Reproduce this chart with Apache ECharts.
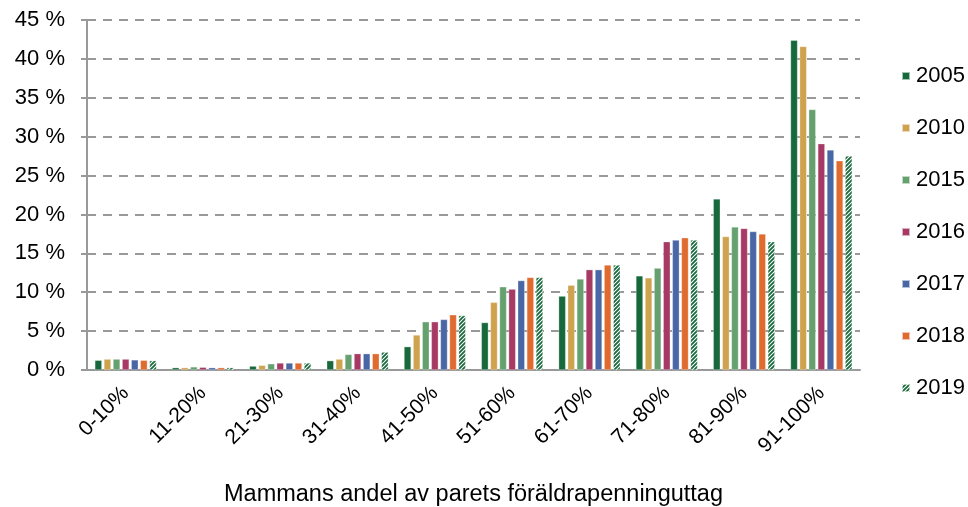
<!DOCTYPE html>
<html>
<head>
<meta charset="utf-8">
<script src="https://cdn.jsdelivr.net/npm/echarts@6/dist/echarts.min.js"></script>
<style>
  html, body { margin: 0; padding: 0; background: #fff; }
  #chart { width: 968px; height: 507px; }
</style>
</head>
<body>
<div id="chart"></div>
<script>
// Andel (%) per intervall, läst ur bilden
const categories = ['0-10%', '11-20%', '21-30%', '31-40%', '41-50%', '51-60%', '61-70%', '71-80%', '81-90%', '91-100%'];
const years = ['2005', '2010', '2015', '2016', '2017', '2018', '2019'];

const v2005 = [1.25, 0.3, 0.5, 1.2, 3.0, 6.1, 9.5, 12.1, 22.0, 42.4];
const v2010 = [1.4, 0.3, 0.6, 1.4, 4.5, 8.7, 10.9, 11.85, 17.15, 41.6];
const v2015 = [1.4, 0.4, 0.8, 2.0, 6.2, 10.7, 11.7, 13.1, 18.4, 33.5];
const v2016 = [1.4, 0.35, 0.9, 2.1, 6.2, 10.4, 12.9, 16.5, 18.2, 29.1];
const v2017 = [1.3, 0.3, 0.9, 2.1, 6.5, 11.5, 12.9, 16.7, 17.8, 28.3];
const v2018 = [1.25, 0.3, 0.9, 2.1, 7.1, 11.9, 13.5, 17.0, 17.5, 26.9];
const v2019 = [1.2, 0.3, 0.9, 2.3, 7.0, 11.9, 13.5, 16.7, 16.5, 27.5];

const seriesValues = [v2005, v2010, v2015, v2016, v2017, v2018, v2019];
const colors = ['#17693b', '#cfa24e', '#65a06f', '#a73a64', '#4a67a5', '#e06b2e', null];

// randigt mönster för 2019
function stripePattern() {
  const c = document.createElement('canvas');
  c.width = 4; c.height = 4;
  const ctx = c.getContext('2d');
  ctx.fillStyle = '#ffffff';
  ctx.fillRect(0, 0, 4, 4);
  ctx.strokeStyle = '#17693b';
  ctx.lineWidth = 1.8;
  ctx.beginPath();
  ctx.moveTo(-1, 5); ctx.lineTo(5, -1);
  ctx.moveTo(-1, 1); ctx.lineTo(1, -1);
  ctx.moveTo(3, 5); ctx.lineTo(5, 3);
  ctx.stroke();
  return { image: c, repeat: 'repeat' };
}

const chart = echarts.init(document.getElementById('chart'), null, { renderer: 'canvas' });
const FONT = 'Liberation Sans, Arial, sans-serif';

chart.setOption({
  animation: false,
  backgroundColor: '#fff',
  grid: { left: 87, right: 108, top: 20, bottom: 137, containLabel: false, outerBoundsMode: 'none' },
  legend: {
    orient: 'vertical',
    left: 896,
    top: 60,
    itemWidth: 8,
    itemHeight: 8,
    itemGap: 30,
    icon: 'rect',
    textStyle: { fontFamily: FONT, fontSize: 22, lineHeight: 22, color: '#000', padding: [0, 0, 0, 1] },
    data: years,
  },
  xAxis: {
    type: 'category',
    data: categories,
    axisLine: { lineStyle: { color: '#999', width: 2 } },
    axisTick: { show: false },
    axisLabel: {
      rotate: 45,
      interval: 0,
      margin: 20,
      fontFamily: FONT,
      fontSize: 21,
      color: '#000',
    },
    name: 'Mammans andel av parets föräldrapenninguttag',
    nameLocation: 'middle',
    nameGap: 113,
    nameTextStyle: { fontFamily: FONT, fontSize: 23.5, color: '#000' },
  },
  yAxis: {
    type: 'value',
    min: 0,
    max: 45,
    interval: 5,
    axisLine: { show: true, lineStyle: { color: '#999', width: 2 } },
    axisTick: { show: true, length: 6, lineStyle: { color: '#999', width: 2 } },
    axisLabel: {
      formatter: (v) => v + ' %',
      margin: 22,
      fontFamily: FONT,
      fontSize: 22,
      color: '#000',
    },
    splitLine: { lineStyle: { color: '#999', width: 2, type: [9, 7] } },
  },
  series: years.map((y, i) => ({
    name: y,
    type: 'bar',
    data: seriesValues[i],
    barWidth: 7,
    barGap: '30%',
    itemStyle: {
      color: colors[i] || stripePattern(),
      borderColor: 'rgba(255,255,255,0.6)',
      borderWidth: 0.5,
    },
  })),
});
</script>
</body>
</html>
